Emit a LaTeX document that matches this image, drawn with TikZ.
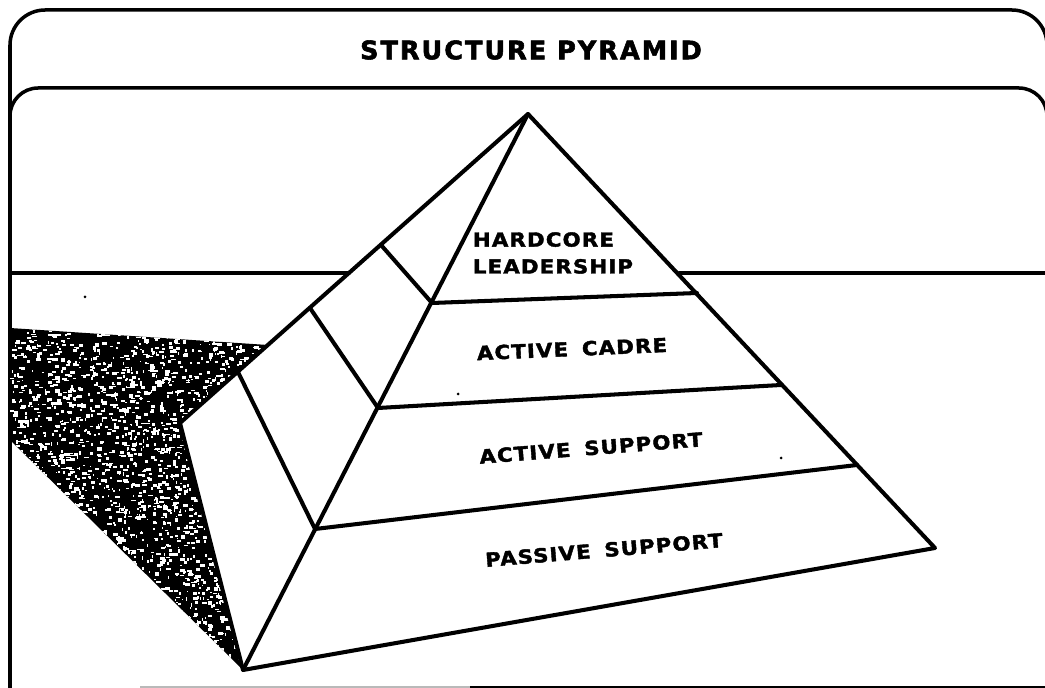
\documentclass[tikz,border=0pt]{standalone}
\usepackage{fontspec}
\newfontfamily\labfont{DejaVu Sans Bold}[FakeStretch=1.1,LetterSpace=6,FakeBold=2]
\newfontfamily\titfont{DejaVu Sans Bold}[LetterSpace=8,FakeBold=2.2]
\tikzset{
  frame/.style={line width=2pt, line cap=round},
  edge/.style={line width=2.3pt, line join=round, line cap=round},
  lab/.style={font=\labfont\fontsize{11}{15.3}\selectfont, inner sep=0pt},
  speck/.style={fill=black}
}
\begin{document}
\begin{tikzpicture}[x=0.02cm,y=-0.02cm]
\useasboundingbox (0,0) rectangle (1045,688);
\clip (0,0) rectangle (1045,688);
% frame
\draw[frame, rounded corners=20] (10,688) -- (10,10) -- (1047,10) -- (1047,120);
\draw[frame, rounded corners=16] (10,130) -- (10,88) -- (1047,88) -- (1047,130);
\node[font=\titfont\fontsize{14.5}{15}\selectfont, inner sep=0pt] (title) at (531,50) {STRUCTURE PYRAMID};
\draw[line width=1.5pt] (470,687) -- (1045,687);
\draw[line width=1pt, gray!55] (140,687) -- (470,687);
% coordinates
\coordinate (A) at (528,114);
\coordinate (B) at (180,423);
\coordinate (FL) at (243,670);
\coordinate (FR) at (935,548);
\coordinate (L1l) at (432,303);
\coordinate (L1r) at (697,293);
\coordinate (L2l) at (378,408);
\coordinate (L2r) at (781,385);
\coordinate (L3l) at (315,529);
\coordinate (L3r) at (857,465);
\coordinate (S1) at (381,245);
\coordinate (S2) at (310,308);
\coordinate (S3) at (238,372);
\coordinate (H3) at (349,273);
\coordinate (H3r) at (679,273);
\coordinate (Sh1) at (10,328);
\coordinate (Sh2) at (268,345);
\coordinate (Sh3) at (10,440);
\coordinate (E1) at (10,273);
\coordinate (E2) at (1047,273);
% horizon line
\draw[frame] (E1) -- (H3);
\draw[frame] (H3r) -- (E2);
% shadow
\fill[black] (Sh1) -- (Sh2) -- (B) -- (FL) -- (Sh3) -- cycle;
\begin{scope}
\clip (Sh1) -- (Sh2) -- (B) -- (FL) -- (Sh3) -- cycle;
\pgfmathsetseed{42}
\foreach \i in {1,...,3000}{
  \pgfmathsetmacro{\px}{10+260*rnd}
  \pgfmathsetmacro{\py}{328+342*rnd}
  \pgfmathsetmacro{\w}{1+4*rnd}
  \pgfmathsetmacro{\h}{1+2.5*rnd}
  \fill[white] (\px,\py) rectangle ++(\w,\h);
}
\end{scope}
% pyramid
\draw[edge] (B) -- (A) -- (FR) -- (FL) -- cycle;
\draw[edge] (A) -- (FL);
\draw[edge] (S1) -- (L1l) -- (L1r);
\draw[edge] (S2) -- (L2l) -- (L2r);
\draw[edge] (S3) -- (L3l) -- (L3r);
% labels
\node[lab, align=left] (hc) at (553,253) {HARDCORE\\LEADERSHIP};
\node[lab, rotate=2.5] (ac) at (572,349) {ACTIVE\hspace{3pt} CADRE};
\node[lab, rotate=4.5] (as) at (591,448) {ACTIVE\hspace{3pt} SUPPORT};
\node[lab, rotate=4.8] (ps) at (604,550) {PASSIVE\hspace{3pt} SUPPORT};
% specks
\fill[speck] (85,297) circle (1.5);
\fill[speck] (458,394) circle (1.5);
\fill[speck] (781,458) circle (1.5);
\end{tikzpicture}
\end{document}
